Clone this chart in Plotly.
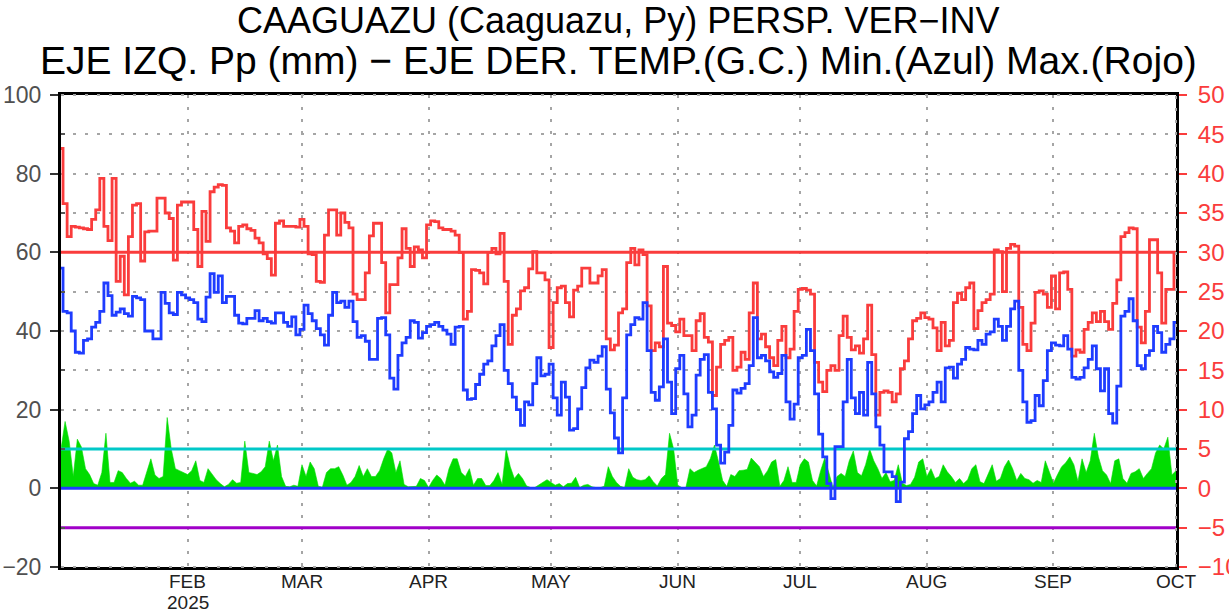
import pandas as pd
import plotly.graph_objects as go

# ---- data: daily series, 1 Jan 2025 .. 1 Oct 2025 ----
START = "2025-01-01"
END = "2025-10-01"

# maximum temperature (deg C, right axis)
tmax = [
    43.2, 36.2, 32.0, 33.3, 33.2, 33.1, 33.0, 32.9, 34.2, 35.4,
    39.4, 33.3, 31.5, 39.4, 26.3, 29.5, 24.6, 32.0, 36.0, 36.2,
    28.9, 32.6, 32.7, 32.7, 36.9, 36.9, 35.0, 34.3, 29.0, 36.0,
    36.4, 36.4, 36.4, 32.9, 28.2, 35.2, 31.4, 37.7, 38.3, 38.6,
    38.5, 33.1, 32.7, 31.2, 33.3, 33.5, 33.0, 32.8, 31.8, 31.2,
    29.8, 29.2, 27.1, 33.7, 34.0, 33.3, 33.3, 33.3, 33.2, 34.2,
    33.3, 29.8, 29.7, 26.3, 26.2, 32.2, 35.4, 35.4, 32.2, 35.0,
    33.8, 33.1, 24.7, 24.0, 24.0, 27.4, 32.1, 33.7, 33.7, 28.7,
    22.3, 25.9, 25.9, 29.3, 33.0, 30.5, 28.2, 30.7, 30.3, 29.3,
    33.5, 34.0, 33.9, 33.1, 32.9, 32.9, 32.7, 32.2, 30.0, 21.5,
    22.5, 27.8, 27.7, 27.4, 26.0, 30.0, 30.5, 29.8, 32.4, 26.3,
    18.3, 22.0, 22.8, 25.1, 25.5, 27.9, 30.1, 27.4, 27.4, 26.5,
    17.9, 23.6, 25.5, 25.7, 23.6, 21.8, 25.2, 25.7, 28.0, 28.0,
    26.1, 26.1, 27.0, 27.8, 19.0, 17.6, 18.2, 22.3, 22.8, 28.7,
    30.5, 28.4, 30.3, 29.7, 23.2, 17.5, 18.5, 18.0, 28.2, 21.0,
    20.7, 19.9, 21.5, 19.4, 19.4, 17.5, 21.3, 22.2, 19.2, 18.6,
    11.8, 15.4, 18.3, 18.8, 19.2, 15.0, 15.4, 17.3, 16.4, 22.3,
    26.1, 19.0, 19.6, 18.0, 16.6, 15.6, 18.8, 20.6, 16.6, 17.7,
    22.5, 25.3, 25.4, 25.2, 24.7, 16.0, 13.5, 12.3, 15.0, 15.6,
    15.0, 19.4, 21.9, 19.2, 17.6, 18.1, 17.2, 19.0, 23.3, 17.0,
    9.3, 12.2, 12.4, 12.2, 11.0, 12.0, 15.2, 16.2, 19.0, 21.3,
    21.6, 22.3, 21.7, 21.5, 20.4, 17.5, 21.1, 18.1, 18.8, 23.6,
    24.8, 24.0, 25.5, 26.1, 20.3, 22.6, 23.6, 24.0, 24.7, 30.3,
    30.1, 25.0, 30.5, 31.0, 30.8, 23.0, 18.3, 17.5, 21.0, 24.9,
    25.1, 24.7, 23.0, 27.0, 22.8, 27.4, 27.5, 25.3, 16.8, 17.6,
    17.3, 20.2, 21.1, 22.3, 21.2, 22.5, 21.2, 20.2, 23.5, 26.5,
    32.0, 32.5, 33.1, 33.0, 20.5, 18.5, 22.5, 31.6, 31.6, 27.4,
    21.0, 25.3, 25.3, 30.0,
]

# minimum temperature (deg C, right axis)
tmin = [
    28.0, 22.5, 22.3, 20.0, 17.3, 17.2, 18.8, 19.0, 20.5, 21.1,
    22.5, 26.1, 24.5, 22.0, 22.4, 22.8, 22.2, 21.9, 24.4, 24.2,
    24.0, 20.0, 20.0, 19.0, 19.0, 24.9, 23.5, 22.3, 22.1, 24.9,
    24.6, 24.2, 24.0, 23.6, 21.5, 21.2, 24.3, 27.3, 24.9, 27.0,
    23.6, 24.4, 24.4, 22.0, 21.0, 20.9, 21.6, 21.6, 22.6, 21.3,
    21.6, 21.2, 21.0, 22.3, 22.3, 21.1, 20.6, 21.8, 19.5, 20.2,
    23.3, 22.2, 21.3, 20.3, 19.5, 18.2, 22.0, 24.9, 23.6, 23.8,
    23.0, 23.8, 21.2, 19.2, 19.4, 18.7, 16.4, 16.4, 21.6, 21.7,
    19.5, 14.0, 12.6, 16.9, 18.5, 19.2, 21.3, 21.1, 19.1, 19.8,
    20.6, 20.8, 21.1, 20.6, 20.1, 19.6, 18.3, 20.5, 20.6, 12.5,
    11.3, 11.4, 13.2, 14.5, 15.8, 16.2, 18.1, 19.4, 20.8, 15.0,
    13.3, 11.6, 10.0, 8.0, 11.0, 10.6, 13.3, 16.6, 14.3, 14.5,
    15.8, 11.5, 9.3, 13.5, 11.6, 7.4, 7.6, 10.1, 12.8, 15.3,
    16.3, 16.0, 16.8, 18.0, 12.6, 9.6, 6.4, 4.5, 11.5, 19.5,
    20.8, 21.7, 21.5, 23.6, 17.5, 12.2, 11.2, 12.9, 19.0, 13.5,
    9.5, 15.2, 16.9, 12.0, 7.8, 9.3, 14.4, 16.4, 17.0, 12.2,
    10.1, 5.5, 3.2, 4.6, 8.0, 12.5, 12.1, 12.7, 13.3, 15.6,
    21.7, 16.6, 16.9, 16.2, 14.8, 14.1, 14.6, 16.9, 11.0, 8.8,
    10.7, 16.6, 16.9, 20.2, 17.5, 12.0, 6.9, 4.0, 0.6, -1.3,
    5.3, 5.3, 11.0, 16.4, 11.5, 9.5, 12.2, 9.3, 16.0, 12.0,
    7.8, 5.5, 2.1, 2.1, 1.5, -1.7, 0.8, 6.3, 7.2, 9.5,
    11.8, 10.1, 10.6, 11.0, 12.2, 13.5, 11.0, 15.3, 15.4, 14.0,
    15.8, 16.4, 17.9, 17.7, 17.6, 18.8, 18.3, 19.6, 19.9, 21.5,
    20.6, 18.8, 20.6, 22.8, 23.8, 15.0, 11.0, 8.4, 8.6, 11.8,
    10.5, 13.7, 17.5, 18.5, 18.2, 18.1, 19.4, 17.7, 14.1, 13.9,
    14.1, 15.3, 16.4, 18.1, 15.2, 12.4, 15.2, 9.5, 8.3, 13.0,
    21.9, 22.5, 24.1, 21.3, 15.6, 15.2, 16.9, 17.5, 20.6, 19.8,
    17.3, 18.3, 19.0, 21.1,
]

# precipitation (mm, left axis)
precip = [
    10, 17, 12, 3, 12.5, 10.5, 5, 3.5, 1.2, 0.8,
    4, 14, 1.5, 1.5, 4.5, 4, 2.5, 1.3, 1.8, 0.8,
    0.8, 4, 7.5, 3.4, 2.5, 3, 18, 10, 5, 4.5,
    4, 3.5, 4.5, 7, 2, 1.5, 5, 3.5, 2.2, 1.2,
    0.4, 1, 2.2, 1.3, 1.5, 12, 4, 3.8, 3.5, 4.2,
    5.5, 12, 7, 11, 3, 0.5, 0.4, 0.8, 0.5, 6,
    3, 6.7, 5, 0.5, 0.3, 4, 5, 5, 5.5, 3.4,
    0.8, 1.5, 3, 5.8, 3, 5, 3, 3, 4.5, 7.5,
    10, 9, 4, 7, 1, 0.4, 0.4, 0.5, 2.5, 2,
    0.2, 2, 3.4, 2.5, 0.8, 5, 7.5, 7.5, 4, 3,
    5, 0.8, 2.5, 2.5, 0.7, 0.7, 2, 4, 1, 10,
    5.5, 2.5, 3.8, 2.5, 0.6, 0.2, 0.2, 0.8, 1.5, 2.2,
    1.5, 0.8, 1.2, 0.4, 1.2, 1.3, 2.8, 0.2, 0.8, 1,
    0.4, 0.2, 0.2, 0.5, 5.5, 3, 1.5, 0.5, 0.2, 5,
    2.8, 2.2, 2, 2.2, 3.2, 1.7, 0.6, 2.5, 3.5, 14,
    10, 0.8, 0.2, 0.2, 5, 4, 4.6, 5, 5.5, 7.6,
    11, 6.7, 2, 0.5, 3.5, 3, 4.5, 4.6, 4.8, 7.7,
    6.5, 5.5, 3, 4.5, 6.7, 7.3, 0.5, 2, 5.5, 1.5,
    1.5, 6, 7.5, 6.7, 2, 0.6, 4.5, 7.7, 4, 0.2,
    3, 3.8, 3, 7, 9.5, 4, 3.2, 6, 10, 7,
    5, 2.5, 4, 1.7, 2, 6, 1.3, 0.7, 1, 2.8,
    6.7, 7.5, 3, 5, 2.5, 3, 6, 4.2, 3, 1.5,
    2.5, 1.2, 2.2, 5, 6, 1.7, 1.2, 3.4, 6, 1.8,
    2.5, 5.5, 7.2, 5, 2, 3.8, 2.5, 2.2, 1.3, 2,
    1.5, 7, 4, 1.3, 3.5, 5.5, 6.5, 8, 6, 1.8,
    7.5, 4, 7, 14, 8, 4.5, 3.4, 1.2, 7, 7.5,
    2.5, 1.3, 3.8, 4.2, 5, 2.5, 3.8, 5, 9, 11,
    10, 13, 3.4, 4.5,
]

# horizontal reference levels, in left-axis units
ref_levels = [10, 0, -10, 60]

month_ticks = ["2025-02-01", "2025-03-01", "2025-04-01", "2025-05-01",
               "2025-06-01", "2025-07-01", "2025-08-01", "2025-09-01",
               "2025-10-01"]
month_labels = ["FEB", "MAR", "APR", "MAY", "JUN", "JUL", "AUG", "SEP", "OCT"]
year_label = "2025"

left_ticks = [-20, 0, 20, 40, 60, 80, 100]
right_ticks = [-10, -5, 0, 5, 10, 15, 20, 25, 30, 35, 40, 45, 50]

title_lines = [
    "CAAGUAZU (Caaguazu, Py) PERSP. VER\u2212INV",
    "EJE IZQ. Pp (mm) \u2212 EJE DER. TEMP.(G.C.) Min.(Azul) Max.(Rojo)",
]

# ---- styling ----
RED = "rgb(250,60,60)"
BLUE = "rgb(30,60,255)"
GREEN = "rgb(0,220,0)"
CYAN = "rgb(0,200,200)"
PURPLE = "rgb(160,0,200)"
GRID = "rgb(165,165,165)"
FONT = "Liberation Sans, Arial, sans-serif"
ref_colors = [CYAN, BLUE, PURPLE, RED]
title_sizes = [36, 39]
title_centers_px = [21, 61]
PLOT_TOP, PLOT_BOTTOM = 95, 567


def label(v):
    return str(v).replace("-", "\u2212")


def paper_y(ypx):
    # convert a pixel row of the figure to paper coordinates
    return (PLOT_BOTTOM - ypx) / (PLOT_BOTTOM - PLOT_TOP)


days = pd.date_range(START, periods=len(tmax), freq="D")

fig = go.Figure()

fig.add_trace(go.Scatter(
    x=days, y=precip, mode="lines", yaxis="y",
    line=dict(color=GREEN, width=0.6), fill="tozeroy", fillcolor=GREEN,
    hoverinfo="skip", showlegend=False,
))

for lvl, col in zip(ref_levels, ref_colors):
    fig.add_trace(go.Scatter(
        x=[START, END], y=[lvl, lvl], mode="lines", yaxis="y",
        line=dict(color=col, width=3), hoverinfo="skip", showlegend=False,
    ))

fig.add_trace(go.Scatter(
    x=days, y=tmax, mode="lines", yaxis="y2",
    line=dict(color=RED, width=2.8, shape="hvh"), showlegend=False,
))
fig.add_trace(go.Scatter(
    x=days, y=tmin, mode="lines", yaxis="y2",
    line=dict(color=BLUE, width=2.8, shape="hvh"), showlegend=False,
))

# dotted grid drawn over the frame on the top, bottom and right edges
for x0, y0, x1, y1 in [(0, 1, 1, 1), (0, 0, 1, 0), (1, 0, 1, 1)]:
    fig.add_shape(type="line", xref="paper", yref="paper",
                  x0=x0, y0=y0, x1=x1, y1=y1, layer="above",
                  line=dict(color=GRID, width=2, dash="3px,9px"))

# two-line title
for text, size, ypx in zip(title_lines, title_sizes, title_centers_px):
    fig.add_annotation(
        text=text, xref="paper", yref="paper", x=0.5, y=paper_y(ypx),
        xanchor="center", yanchor="middle", showarrow=False,
        font=dict(family=FONT, size=size, color="black"),
    )

# month labels under the axis, year under the first one
for tick, name in zip(month_ticks, month_labels):
    fig.add_annotation(
        text=name, xref="x", yref="paper", x=tick, y=paper_y(581),
        xanchor="center", yanchor="middle", showarrow=False,
        font=dict(family=FONT, size=19, color="#222222"),
    )
fig.add_annotation(
    text=year_label, xref="x", yref="paper", x=month_ticks[0],
    y=paper_y(602), xanchor="center", yanchor="middle", showarrow=False,
    font=dict(family=FONT, size=19, color="#222222"),
)

fig.update_layout(
    width=1229, height=614, autosize=False,
    margin=dict(l=61, r=53, t=95, b=47, autoexpand=False),
    paper_bgcolor="white", plot_bgcolor="white",
    xaxis=dict(
        type="date", range=[START, END], automargin=False,
        tickmode="array", tickvals=month_ticks, showticklabels=False,
        ticks="", showgrid=True, gridcolor=GRID, gridwidth=2,
        griddash="3px,9px", zeroline=False,
        showline=True, linecolor="black", linewidth=3, mirror=True,
    ),
    yaxis=dict(
        range=[-20, 100], automargin=False,
        tickmode="array", tickvals=left_ticks,
        ticktext=[label(v) for v in left_ticks],
        ticks="outside", ticklen=8, tickwidth=1.5, tickcolor="#333333",
        ticklabelstandoff=4,
        minor=dict(tickmode="array", tickvals=[-10, 10, 30, 50, 70, 90],
                   ticks="inside", ticklen=4, tickcolor="#555555"),
        showgrid=False, zeroline=False,
        showline=True, linecolor="black", linewidth=3,
        tickfont=dict(family=FONT, size=23, color="#505050"),
    ),
    yaxis2=dict(
        overlaying="y", side="right", range=[-10, 50], automargin=False,
        tickmode="array", tickvals=right_ticks,
        ticktext=[label(v) for v in right_ticks],
        ticks="outside", ticklen=8, tickwidth=2, tickcolor=RED,
        ticklabelstandoff=6,
        showgrid=True, gridcolor=GRID, gridwidth=2, griddash="3px,9px",
        zeroline=False,
        showline=True, linecolor="black", linewidth=3,
        tickfont=dict(family=FONT, size=24, color=RED),
    ),
)

fig.write_html("out.html")
